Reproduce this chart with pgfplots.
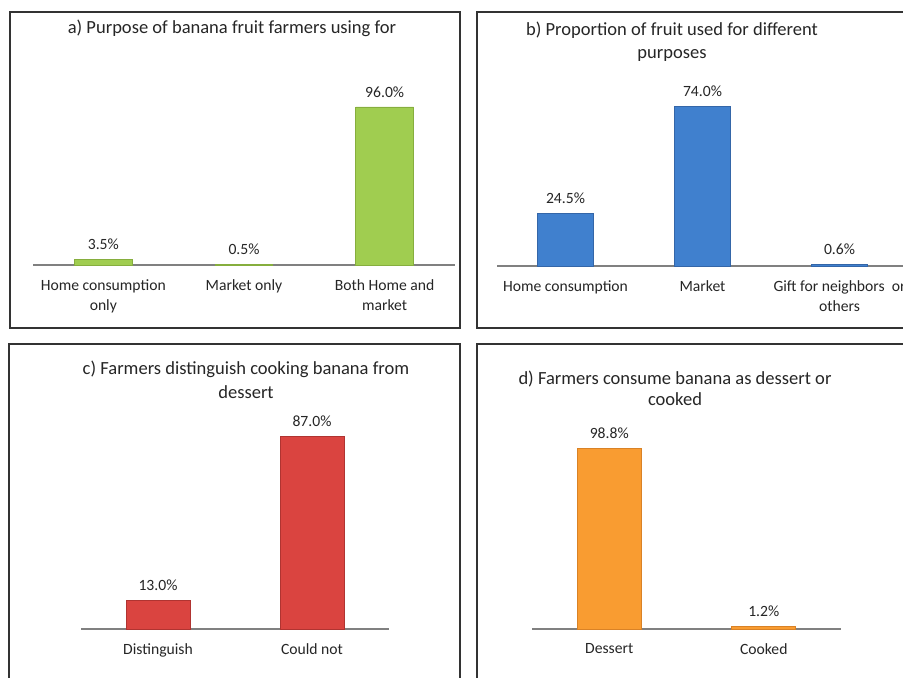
\documentclass[border=0pt]{standalone}
\usepackage{pgfplots}
\pgfplotsset{compat=1.18}
\usepackage{fontspec}
\setmainfont{Carlito}
\definecolor{txt}{HTML}{262626}
\definecolor{gmid}{HTML}{A0CD50}
\definecolor{gedge}{HTML}{86AE3E}
\definecolor{bmid}{HTML}{4080CE}
\definecolor{bedge}{HTML}{3466A8}
\definecolor{rmid}{HTML}{DA4440}
\definecolor{redge}{HTML}{B03431}
\definecolor{omid}{HTML}{F99C31}
\definecolor{oedge}{HTML}{D98226}
\pgfplotsset{
  panel/.style={
    scale only axis, anchor=south west, clip=false,
    ymin=0, ymax=100, xmin=-0.5,
    axis y line=none, axis x line*=bottom,
    axis line style={draw=black!50, line width=1.2bp},
    xtick=data, major tick length=0pt,
    xticklabel style={font=\fontsize{15.7}{20.5}\selectfont, align=center, text=txt, yshift=-11bp},
    ybar,
    nodes near coords={\pgfmathprintnumber[fixed,fixed zerofill,precision=1,assume math mode=true]{\pgfplotspointmeta}\%},
    nodes near coords style={font=\fontsize{15.7}{18}\selectfont, text=txt, yshift=6bp},
  },
}
\begin{document}
\begin{tikzpicture}[x=1bp,y=1bp]
\useasboundingbox (0,0) rectangle (903,678);
\fill[white] (0,0) rectangle (903,678);
% frames
\draw[line width=1.3bp, draw=black!80] (10,350) rectangle (460,666);
\draw[line width=1.3bp, draw=black!80] (477,350) rectangle (915,666);
\draw[line width=1.3bp, draw=black!80] (9,-10) rectangle (460,334);
\draw[line width=1.3bp, draw=black!80] (477,-10) rectangle (915,334);
% titles
\node[font=\fontsize{18.6}{22}\selectfont, text=txt] at (232,650) {a) Purpose of banana fruit farmers using for};
\node[font=\fontsize{18.6}{23}\selectfont, text=txt, align=center] at (672,636.5) {b) Proportion of fruit used for different\\purposes};
\node[font=\fontsize{18.6}{24}\selectfont, text=txt, align=center] at (246,298) {c) Farmers distinguish cooking banana from\\dessert};
\node[font=\fontsize{18.6}{21.5}\selectfont, text=txt, align=center] at (675,289.5) {d) Farmers consume banana as dessert or\\cooked};
% a
\begin{axis}[panel, at={(33bp,413bp)}, width=422bp, height=164.6bp, xmax=2.5, bar width=0.41,
  xticklabels={{Home consumption\\only},{Market only},{Both Home and\\market}}]
\addplot[fill=gmid, draw=gedge, line width=0.8bp] coordinates {(0,3.5) (1,0.5) (2,96.0)};
\end{axis}
% b
\begin{axis}[panel, at={(497bp,412bp)}, width=411bp, height=216bp, xmax=2.5, bar width=0.41,
  xticklabels={{Home consumption},{Market},{Gift for neighbors\ \ or\\others}}]
\addplot[fill=bmid, draw=bedge, line width=0.8bp] coordinates {(0,24.5) (1,74.0) (2,0.6)};
\end{axis}
% c
\begin{axis}[panel, at={(81bp,49bp)}, width=308bp, height=221bp, xmax=1.5, bar width=0.415,
  xticklabels={{Distinguish},{Could not}}]
\addplot[fill=rmid, draw=redge, line width=0.8bp] coordinates {(0,13.0) (1,87.0)};
\end{axis}
% d
\begin{axis}[panel, at={(532bp,49bp)}, width=309bp, height=183bp, xmax=1.5, bar width=0.415,
  xticklabels={{Dessert},{Cooked}}]
\addplot[fill=omid, draw=oedge, line width=0.8bp] coordinates {(0,98.8) (1,1.2)};
\end{axis}
\end{tikzpicture}
\end{document}
